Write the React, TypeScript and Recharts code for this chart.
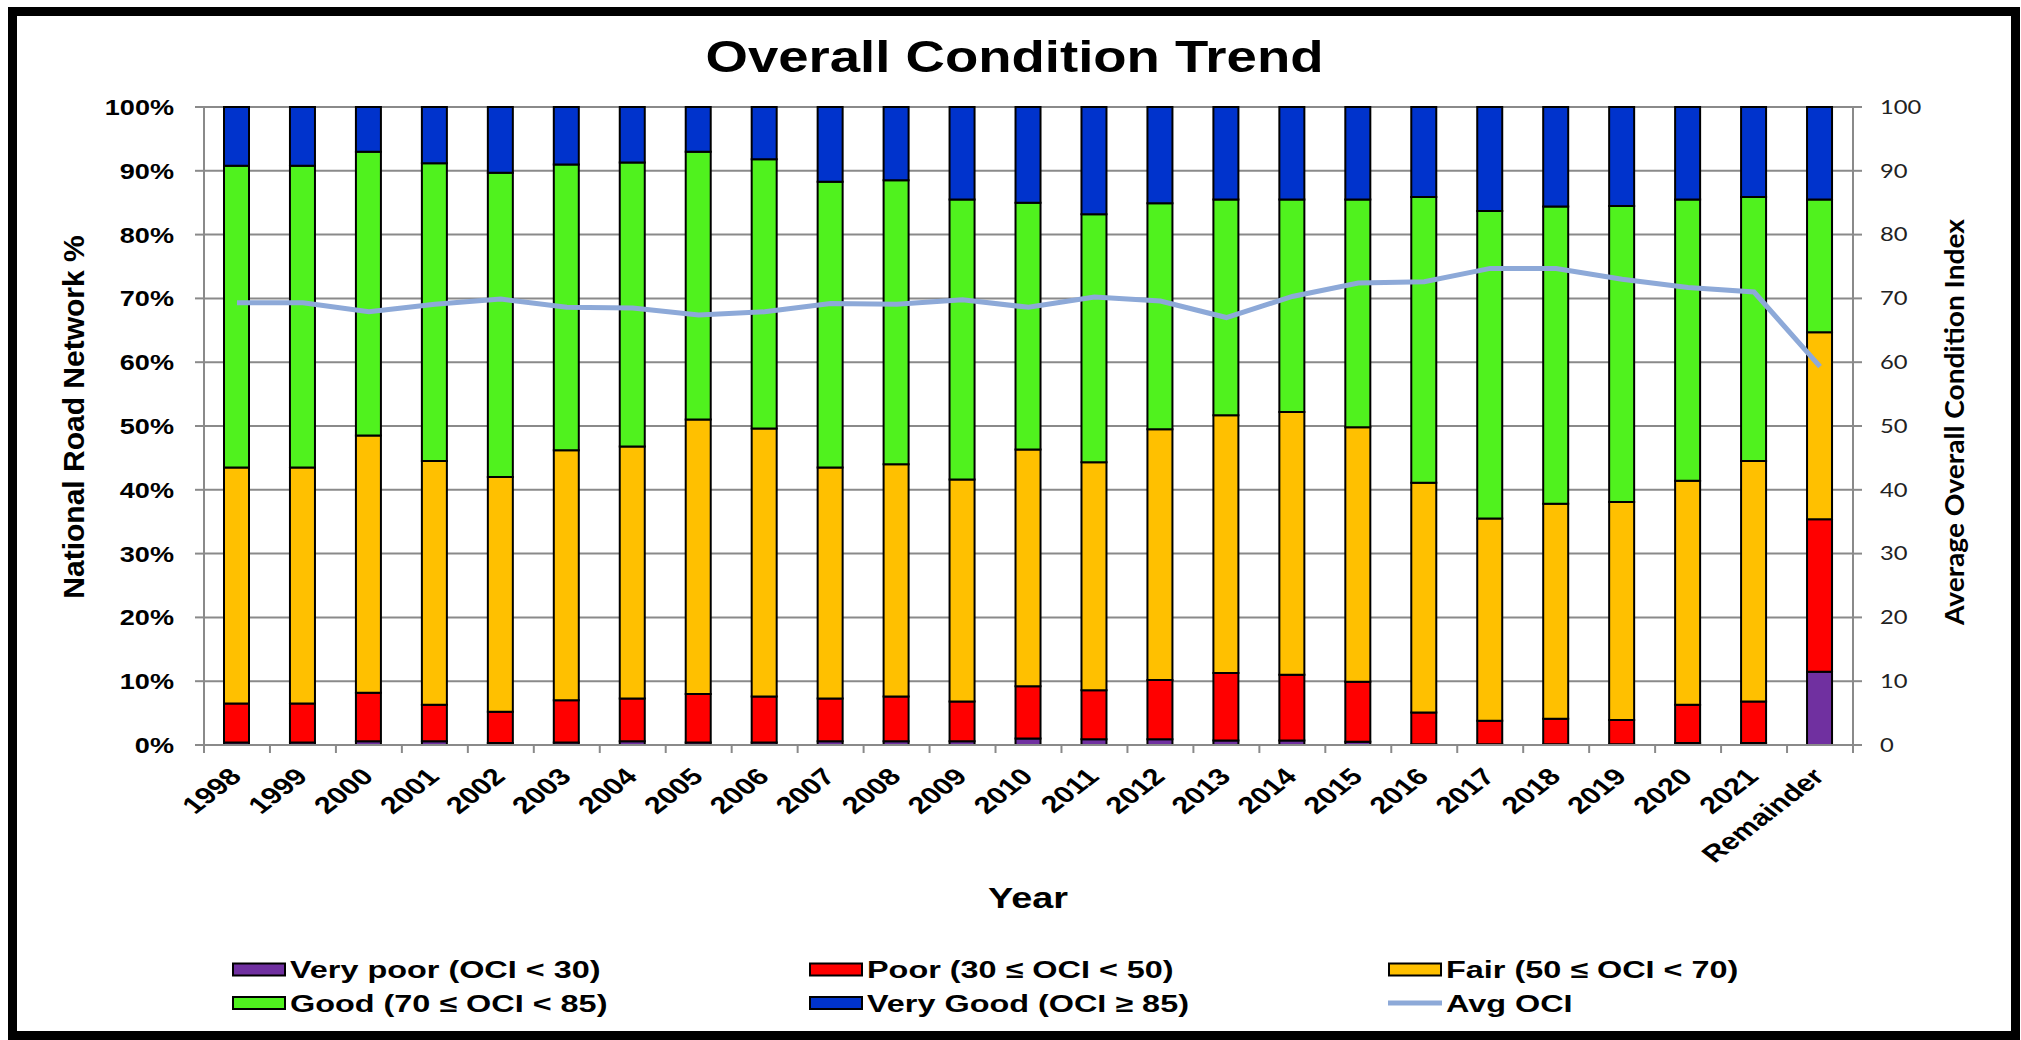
import React from "react";
import { ComposedChart, Bar, Line, XAxis, YAxis, CartesianGrid } from "recharts";

// categories on the x axis
const CATEGORIES = [
  "1998", "1999", "2000", "2001", "2002", "2003", "2004", "2005", "2006",
  "2007", "2008", "2009", "2010", "2011", "2012", "2013", "2014", "2015",
  "2016", "2017", "2018", "2019", "2020", "2021", "Remainder",
];

// share of the network in each condition band (%)
const VERY_POOR = [0.4, 0.4, 0.6, 0.6, 0.3, 0.4, 0.6, 0.4, 0.4, 0.6, 0.6, 0.6, 1.0, 0.9, 0.9, 0.7, 0.7, 0.5, 0.1, 0.1, 0.1, 0.1, 0.3, 0.3, 11.5];
const POOR = [6.1, 6.1, 7.6, 5.7, 4.9, 6.6, 6.7, 7.6, 7.2, 6.7, 7.0, 6.2, 8.2, 7.7, 9.3, 10.6, 10.3, 9.4, 5.0, 3.7, 4.0, 3.8, 6.0, 6.5, 23.9];
const FAIR = [37.0, 37.0, 40.3, 38.2, 36.8, 39.2, 39.5, 43.0, 42.0, 36.2, 36.4, 34.8, 37.1, 35.7, 39.3, 40.4, 41.2, 39.9, 36.0, 31.7, 33.7, 34.2, 35.1, 37.7, 29.3];
const GOOD = [47.3, 47.3, 44.5, 46.7, 47.7, 44.8, 44.5, 42.0, 42.2, 44.8, 44.5, 43.9, 38.7, 38.9, 35.4, 33.8, 33.3, 35.7, 44.8, 48.2, 46.6, 46.4, 44.1, 41.4, 20.8];
const VERY_GOOD = [9.2, 9.2, 7.0, 8.8, 10.3, 9.0, 8.7, 7.0, 8.2, 11.7, 11.5, 14.5, 15.0, 16.8, 15.1, 14.5, 14.5, 14.5, 14.1, 16.3, 15.6, 15.5, 14.5, 14.1, 14.5];

// average overall condition index
const AVG_OCI = [69.3, 69.3, 67.9, 69.1, 69.9, 68.6, 68.5, 67.4, 67.9, 69.2, 69.1, 69.8, 68.6, 70.2, 69.6, 67.0, 70.3, 72.4, 72.6, 74.7, 74.7, 73.0, 71.7, 71.0, 59.3];

const PCT_TICKS = [0, 10, 20, 30, 40, 50, 60, 70, 80, 90, 100];
const OCI_TICKS = [0, 10, 20, 30, 40, 50, 60, 70, 80, 90, 100];

const BAR_SERIES = [
  { key: "veryPoor", name: "Very poor (OCI < 30)", color: "#7030A0", values: VERY_POOR },
  { key: "poor", name: "Poor (30 ≤ OCI < 50)", color: "#FF0000", values: POOR },
  { key: "fair", name: "Fair (50 ≤ OCI < 70)", color: "#FFC000", values: FAIR },
  { key: "good", name: "Good (70 ≤ OCI < 85)", color: "#50F21E", values: GOOD },
  { key: "veryGood", name: "Very Good (OCI ≥ 85)", color: "#0033CC", values: VERY_GOOD },
];
const LINE_NAME = "Avg OCI";
const LINE_COLOR = "#8DA9D8";

const data = CATEGORIES.map((cat, i) => {
  const row: Record<string, string | number> = { cat, avg: AVG_OCI[i] };
  BAR_SERIES.forEach((s) => (row[s.key] = s.values[i]));
  return row;
});

const W = 2021;
const H = 1040;
const PLOT_LEFT = 204;
const PLOT_RIGHT = 1853;
const PLOT_TOP = 107;
const PLOT_BOTTOM = 745;
const BAND = (PLOT_RIGHT - PLOT_LEFT) / CATEGORIES.length;
const GRID = "#8a8a8a";
const ARIAL = "'Liberation Sans', Arial, sans-serif";
const CALIBRI = "Lato, 'Open Sans', sans-serif";

function YearTick(props: any) {
  const { x, payload, index } = props;
  const left = x - BAND / 2;
  const last = index === CATEGORIES.length - 1;
  return (
    <g>
      <line x1={left} x2={left} y1={PLOT_BOTTOM} y2={PLOT_BOTTOM + 8} stroke={GRID} strokeWidth={2} />
      {last && (
        <line x1={left + BAND} x2={left + BAND} y1={PLOT_BOTTOM} y2={PLOT_BOTTOM + 8} stroke={GRID} strokeWidth={2} />
      )}
      <g transform={`translate(${x + 6},${PLOT_BOTTOM + 33})`}>
        <text
          transform="scale(1.3,1) rotate(-45)"
          textAnchor="end"
          fontFamily={ARIAL}
          fontWeight={700}
          fontSize={23.5}
          fill="#000"
        >
          {payload.value}
        </text>
      </g>
    </g>
  );
}

function PctTick(props: any) {
  const { y, payload } = props;
  return (
    <g transform={`translate(${PLOT_LEFT - 30},${y})`}>
      <text transform="scale(1.23,1)" textAnchor="end" dy="0.36em" fontFamily={ARIAL} fontWeight={700} fontSize={22} fill="#000">
        {payload.value}%
      </text>
    </g>
  );
}

function OciTick(props: any) {
  const { y, payload } = props;
  return (
    <g transform={`translate(${PLOT_RIGHT + 27},${y})`}>
      <text transform="scale(1.25,1)" textAnchor="start" dy="0.36em" fontFamily={CALIBRI} fontSize={19} fill="#222">
        {payload.value}
      </text>
    </g>
  );
}

const LEGEND_COLS = [233, 810, 1389];
const LEGEND_ROWS = [969.5, 1003];

function Overlay() {
  const items = [...BAR_SERIES.map((s) => ({ name: s.name, color: s.color, line: false })), { name: LINE_NAME, color: LINE_COLOR, line: true }];
  return (
    <svg width={W} height={H} style={{ position: "absolute", left: 0, top: 0, pointerEvents: "none" }}>
      <text x={1014.5} y={72} textAnchor="middle" fontFamily={ARIAL} fontWeight={700} fontSize={44} textLength={618} lengthAdjust="spacingAndGlyphs">
        Overall Condition Trend
      </text>
      <text transform="translate(84,417) rotate(-90)" textAnchor="middle" fontFamily={ARIAL} fontWeight={700} fontSize={30}>
        National Road Network %
      </text>
      <text
        transform="translate(1964,422) rotate(-90)"
        textAnchor="middle"
        fontFamily={CALIBRI}
        fontWeight={700}
        fontSize={26}
        textLength={406}
        lengthAdjust="spacingAndGlyphs"
      >
        Average Overall Condition Index
      </text>
      <text x={1028} y={908} textAnchor="middle" fontFamily={ARIAL} fontWeight={700} fontSize={29} textLength={80} lengthAdjust="spacingAndGlyphs">
        Year
      </text>
      {items.map((it, i) => {
        const sx = LEGEND_COLS[i % 3];
        const cy = LEGEND_ROWS[Math.floor(i / 3)];
        return (
          <g key={it.name}>
            {it.line ? (
              <line x1={sx - 1} x2={sx + 53} y1={cy} y2={cy} stroke={it.color} strokeWidth={5} />
            ) : (
              <rect x={sx} y={cy - 6} width={52} height={12} fill={it.color} stroke="#000" strokeWidth={2} />
            )}
            <g transform={`translate(${sx + 57},${cy + 8.5})`}>
              <text transform="scale(1.35,1)" fontFamily={ARIAL} fontWeight={700} fontSize={24} fill="#000">
                {it.name}
              </text>
            </g>
          </g>
        );
      })}
    </svg>
  );
}

export default function App() {
  return (
    <div style={{ position: "relative", width: W, height: H, background: "#fff" }}>
      <style>{`body{margin:0;overflow:hidden}`}</style>
      <div
        style={{
          position: "absolute",
          left: 8,
          top: 7,
          width: 2012,
          height: 1033,
          border: "9px solid #000",
          boxSizing: "border-box",
        }}
      />
      <div style={{ position: "absolute", left: 0, top: 0 }}>
        <ComposedChart
          width={W}
          height={H}
          data={data}
          margin={{ top: PLOT_TOP, right: W - PLOT_RIGHT - 168, bottom: 0, left: PLOT_LEFT - 204 }}
          barSize={25}
        >
          <CartesianGrid yAxisId="left" vertical={false} stroke={GRID} strokeWidth={2} />
          <XAxis
            dataKey="cat"
            interval={0}
            height={H - PLOT_BOTTOM}
            axisLine={{ stroke: GRID, strokeWidth: 2 }}
            tickLine={false}
            tick={<YearTick />}
          />
          <YAxis
            yAxisId="left"
            width={204}
            domain={[0, 100]}
            ticks={PCT_TICKS}
            interval={0}
            tickSize={9}
            axisLine={{ stroke: GRID, strokeWidth: 2 }}
            tickLine={{ stroke: GRID, strokeWidth: 2 }}
            tick={<PctTick />}
          />
          <YAxis
            yAxisId="right"
            orientation="right"
            width={168}
            domain={[0, 100]}
            ticks={OCI_TICKS}
            interval={0}
            tickSize={9}
            axisLine={{ stroke: GRID, strokeWidth: 2 }}
            tickLine={{ stroke: GRID, strokeWidth: 2 }}
            tick={<OciTick />}
          />
          {BAR_SERIES.map((s) => (
            <Bar
              key={s.key}
              dataKey={s.key}
              name={s.name}
              stackId="cond"
              yAxisId="left"
              fill={s.color}
              stroke="#000"
              strokeWidth={2}
              isAnimationActive={false}
            />
          ))}
          <Line
            yAxisId="right"
            dataKey="avg"
            name={LINE_NAME}
            type="linear"
            stroke={LINE_COLOR}
            strokeWidth={5}
            dot={false}
            activeDot={false}
            isAnimationActive={false}
          />
        </ComposedChart>
      </div>
      <Overlay />
    </div>
  );
}
